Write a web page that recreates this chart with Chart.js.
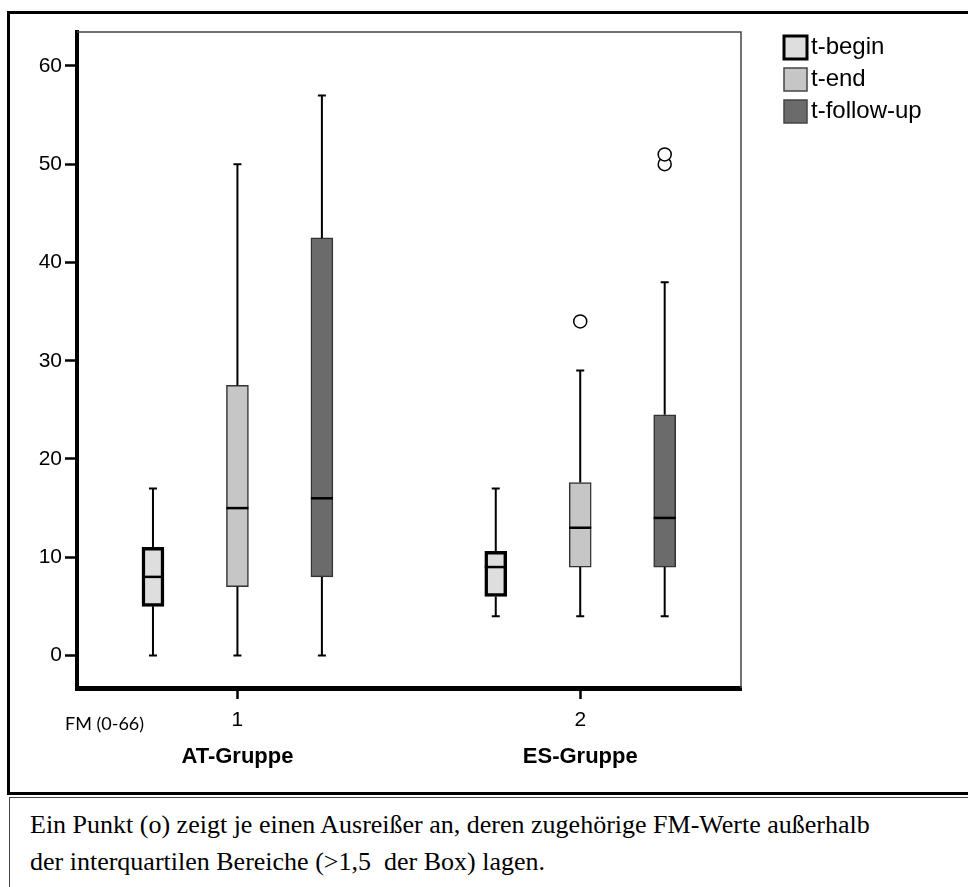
<!DOCTYPE html>
<html>
<head>
<meta charset="utf-8">
<script src="https://cdn.jsdelivr.net/npm/chart.js@4/dist/chart.umd.min.js"></script>
<style>
html,body{margin:0;padding:0;background:#fff;overflow:hidden;width:968px;height:887px;}
#frame{position:absolute;left:7px;top:11px;width:1000px;height:784px;border:3px solid #000;box-sizing:border-box;}
#c{position:absolute;left:0;top:0;}
#cap{position:absolute;left:9px;top:797px;width:1000px;height:120px;border:1px solid #444;box-sizing:border-box;padding:8px 0 0 20px;font-family:'Liberation Serif','Times New Roman',serif;font-size:26px;line-height:37px;color:#000;}
</style>
</head>
<body>
<div id="frame"></div>
<canvas id="c" width="968" height="790"></canvas>
<div id="cap">Ein Punkt (o) zeigt je einen Ausreißer an, deren zugehörige FM-Werte außerhalb<br>der interquartilen Bereiche (&gt;1,5&nbsp; der Box) lagen.</div>
<script>
// ---- data ----
const groups = [1, 2];
const xTickLabels = ['1', '2'];
const groupLabels = ['AT-Gruppe', 'ES-Gruppe'];
const seriesNames = ['t-begin', 't-end', 't-follow-up'];
const yTicks = [0, 10, 20, 30, 40, 50, 60];

const beginMin = [0, 4];
const beginQ1 = [5, 6];
const beginMed = [8, 9];
const beginQ3 = [11, 10.6];
const beginMax = [17, 17];

const endMin = [0, 4];
const endQ1 = [7, 9];
const endMed = [15, 13];
const endQ3 = [27.5, 17.6];
const endMax = [50, 29];

const followMin = [0, 4];
const followQ1 = [8, 9];
const followMed = [16, 14];
const followQ3 = [42.5, 24.5];
const followMax = [57, 38];

const beginOutliers = [[], []];
const endOutliers = [[], [34]];
const followOutliers = [[], [50, 51]];

// ---- styling / layout ----
const fills = ['#dedede', '#c6c6c6', '#6b6b6b'];
const borders = ['#000', '#333', '#333'];
const borderWidths = [3.5, 1.5, 1.5];
const slotOffset = 0.2464;

const stats = [
  {min: beginMin, q1: beginQ1, med: beginMed, q3: beginQ3, max: beginMax, out: beginOutliers},
  {min: endMin, q1: endQ1, med: endMed, q3: endQ3, max: endMax, out: endOutliers},
  {min: followMin, q1: followQ1, med: followMed, q3: followQ3, max: followMax, out: followOutliers}
];

const boxDatasets = stats.map((st, s) => ({
  type: 'bar',
  label: seriesNames[s],
  data: groups.map((g, i) => ({x: g + (s - 1) * slotOffset, y: [st.q1[i], st.q3[i]]})),
  backgroundColor: fills[s],
  borderColor: borders[s],
  borderWidth: borderWidths[s],
  borderSkipped: false,
  barThickness: 22,
  grouped: false
}));

const outlierPoints = [];
stats.forEach((st, s) => groups.forEach((g, i) => st.out[i].forEach(v => outlierPoints.push({x: g + (s - 1) * slotOffset, y: v}))));

const boxPlugin = {
  id: 'boxplot',
  afterDatasetsDraw(chart) {
    const ctx = chart.ctx, xs = chart.scales.x, ys = chart.scales.y;
    ctx.save();
    stats.forEach((st, s) => {
      groups.forEach((g, i) => {
        const px = xs.getPixelForValue(g + (s - 1) * slotOffset);
        const yMin = ys.getPixelForValue(st.min[i]);
        const yQ1 = ys.getPixelForValue(st.q1[i]);
        const yQ3 = ys.getPixelForValue(st.q3[i]);
        const yMax = ys.getPixelForValue(st.max[i]);
        const yMed = ys.getPixelForValue(st.med[i]);
        ctx.strokeStyle = '#000';
        ctx.lineWidth = 2;
        ctx.beginPath();
        ctx.moveTo(px, yQ1); ctx.lineTo(px, yMin);
        ctx.moveTo(px, yQ3); ctx.lineTo(px, yMax);
        ctx.moveTo(px - 4, yMin); ctx.lineTo(px + 4, yMin);
        ctx.moveTo(px - 4, yMax); ctx.lineTo(px + 4, yMax);
        ctx.stroke();
        ctx.lineWidth = 2.5;
        ctx.beginPath();
        ctx.moveTo(px - 11, yMed); ctx.lineTo(px + 11, yMed);
        ctx.stroke();
      });
    });
    ctx.restore();
  },
  afterDraw(chart) {
    const ctx = chart.ctx, a = chart.chartArea, xs = chart.scales.x;
    ctx.save();
    // thin top/right frame of plot
    ctx.strokeStyle = '#444';
    ctx.lineWidth = 1.5;
    ctx.beginPath();
    ctx.moveTo(a.left, a.top); ctx.lineTo(a.right, a.top); ctx.lineTo(a.right, a.bottom);
    ctx.stroke();
    // group labels
    ctx.fillStyle = '#000';
    ctx.font = 'bold 22px "Liberation Sans", Arial, sans-serif';
    ctx.textAlign = 'center';
    ctx.textBaseline = 'middle';
    groups.forEach((g, i) => ctx.fillText(groupLabels[i], xs.getPixelForValue(g), 757));
    // axis caption
    ctx.font = '18px Lato, "Open Sans", sans-serif';
    ctx.textAlign = 'left';
    ctx.fillText('FM (0-66)', 65, 724);
    // legend
    ctx.font = '24px "Liberation Sans", Arial, sans-serif';
    seriesNames.forEach((n, s) => {
      const cy = 47 + s * 32;
      ctx.fillStyle = fills[s];
      ctx.fillRect(784, cy - 11, 23, 23);
      ctx.strokeStyle = s === 0 ? '#000' : '#444';
      ctx.lineWidth = s === 0 ? 3 : 1.5;
      ctx.strokeRect(784, cy - 11, 23, 23);
      ctx.fillStyle = '#000';
      ctx.fillText(n, 811, cy);
    });
    ctx.restore();
  }
};

new Chart(document.getElementById('c'), {
  type: 'bar',
  data: {
    datasets: [
      ...boxDatasets,
      {
        type: 'scatter',
        label: 'Ausreißer',
        data: outlierPoints,
        pointRadius: 6.5,
        pointBackgroundColor: '#fff',
        pointBorderColor: '#000',
        pointBorderWidth: 1.5
      }
    ]
  },
  options: {
    responsive: false,
    animation: false,
    devicePixelRatio: 1,
    layout: {padding: {left: 0, top: 32, right: 227, bottom: 0}},
    plugins: {legend: {display: false}, tooltip: {enabled: false}},
    scales: {
      x: {
        type: 'linear',
        offset: false,
        min: 0.532,
        max: 2.469,
        afterBuildTicks: s => { s.ticks = groups.map(v => ({value: v})); },
        afterFit: s => { s.height = 102; },
        ticks: {
          callback: (v, i) => xTickLabels[i],
          color: '#000',
          font: {family: '"Liberation Sans", Arial, sans-serif', size: 21},
          padding: 9,
          maxRotation: 0
        },
        grid: {offset: false, drawOnChartArea: false, drawTicks: true, tickLength: 11, tickWidth: 2.5, tickColor: '#000'},
        border: {display: true, color: '#000', width: 5}
      },
      y: {
        min: -3.31,
        max: 63.46,
        afterBuildTicks: s => { s.ticks = yTicks.map(v => ({value: v})); },
        afterFit: s => { s.width = 77; },
        ticks: {
          callback: v => String(v),
          color: '#000',
          font: {family: '"Liberation Sans", Arial, sans-serif', size: 21},
          padding: 3
        },
        grid: {drawOnChartArea: false, drawTicks: true, tickLength: 12, tickWidth: 2.5, tickColor: '#000'},
        border: {display: true, color: '#000', width: 4}
      }
    }
  },
  plugins: [boxPlugin]
});
</script>
</body>
</html>
